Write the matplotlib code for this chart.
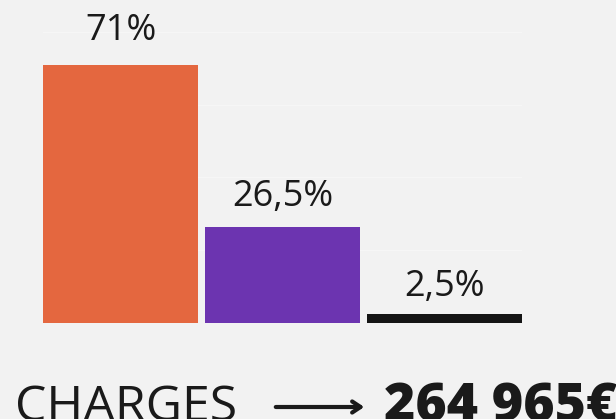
import matplotlib.pyplot as plt

# data
categories = ["A", "B", "C"]
shares = [71, 26.5, 2.5]
share_labels = ["71%", "26,5%", "2,5%"]
colors = ["#e4673f", "#6c34b0", "#151515"]
title_left = "CHARGES"
title_right = "264 965€"

bg = "#f2f2f2"
ink = "#1a1a1a"
W, H = 616, 419

fig = plt.figure(figsize=(W / 100, H / 100), dpi=100, facecolor=bg)
ax = fig.add_axes([43 / W, 96 / H, 479 / W, 291 / H], facecolor=bg)

xpos = range(len(categories))
ax.bar(xpos, shares, width=155 / 162, color=colors, zorder=2)
ax.set_xlim(-0.4784, 2.4784)
ax.set_ylim(0, 80)
ax.set_yticks([20, 40, 60, 80])
ax.grid(axis="y", color="#f6f6f6", linewidth=1, zorder=1)
ax.tick_params(left=False, bottom=False, labelleft=False, labelbottom=False)
for s in ax.spines.values():
    s.set_visible(False)

# value labels above bars
for x, v, lab in zip(xpos, shares, share_labels):
    ax.annotate(lab, (x, v * 1.03), xytext=(0, 12.5), textcoords="offset points",
                ha="center", va="baseline", fontsize=26, family="Open Sans",
                fontweight="medium", color=ink, annotation_clip=False)

# bottom line: CHARGES ---> total
fig.text(15 / W, -2 / H, title_left, ha="left", va="baseline", fontsize=36,
         family="Open Sans", fontweight="medium", color=ink)
fig.add_artist(plt.matplotlib.patches.FancyArrowPatch(
    (273 / W, 12 / H), (367 / W, 12 / H), transform=fig.transFigure,
    arrowstyle="->,head_length=6,head_width=4", color=ink, linewidth=3,
    mutation_scale=1))
fig.text(384 / W, -2 / H, title_right, ha="left", va="baseline", fontsize=38.5,
         family="Open Sans", fontweight="heavy", color=ink)

fig.savefig("out.png", dpi=100, facecolor=bg)
